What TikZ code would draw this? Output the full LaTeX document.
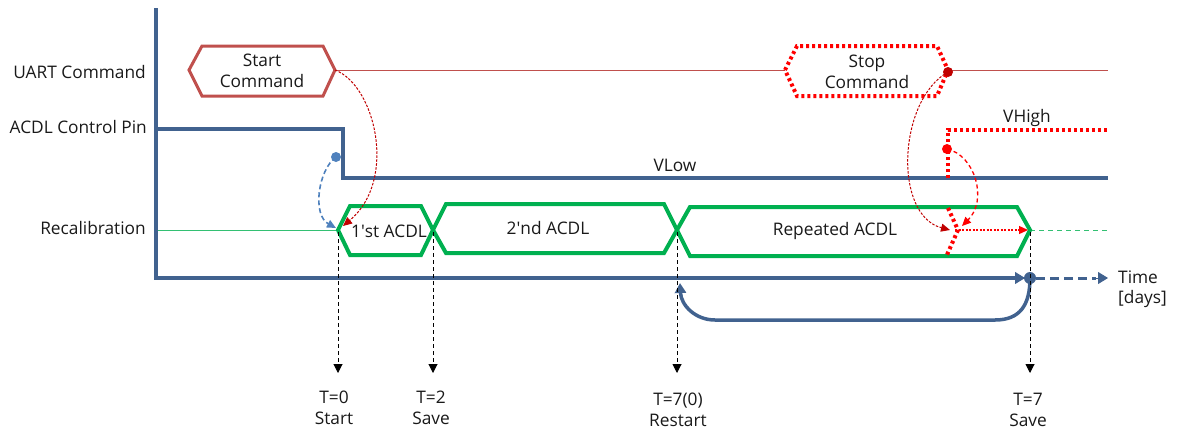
\documentclass[tikz,border=0pt]{standalone}
\usepackage{fontspec}
\setmainfont{Open Sans}
\usetikzlibrary{arrows.meta}
\definecolor{axisblue}{RGB}{65,98,143}
\definecolor{startred}{RGB}{192,80,77}
\definecolor{acdlgreen}{RGB}{0,176,80}
\definecolor{brightred}{RGB}{255,0,0}
\definecolor{darkred}{RGB}{192,0,0}
\definecolor{lightblue}{RGB}{79,129,189}
\definecolor{txt}{RGB}{25,25,25}
\begin{document}
\begin{tikzpicture}[x=1pt,y=-1pt,
  lbl/.style={font=\fontsize{17.3}{20.5}\selectfont, text=txt, inner sep=0pt, align=center},
  axisline/.style={draw=axisblue, line width=4pt},
  hexstart/.style={draw=startred, line width=3pt, line join=miter},
  hexstop/.style={draw=brightred, line width=4pt, dash pattern=on 3pt off 3pt},
  hexgreen/.style={draw=acdlgreen, line width=4pt, line join=miter},
  vhighline/.style={draw=brightred, line width=4pt, dash pattern=on 3pt off 3pt},
  guide/.style={draw=black, line width=1pt, dash pattern=on 4pt off 3pt, -{Triangle[length=9pt,width=9pt]}},
  tip/.style={-{Triangle[length=10pt,width=12pt]}},
]
\useasboundingbox (0,0) rectangle (1180,432);

% ---------- coordinates ----------
\coordinate (axtop) at (156,8);
\coordinate (axorig) at (156,278);
\coordinate (axend) at (1025,278);
\coordinate (save7) at (1030,278);
\coordinate (axdash0) at (1036,278);
\coordinate (axdash1) at (1108,278);

% ---------- signal lines ----------
\coordinate (u0) at (189,70);
\coordinate (u1) at (1108,70);
\draw[startred, line width=1pt] (u0) -- (u1);
\coordinate (r0) at (158,230);
\coordinate (r1) at (338,230);
\draw[acdlgreen!80!white, line width=1pt] (r0) -- (r1);
\coordinate (r2) at (1030,230);
\coordinate (r3) at (1108,230);
\draw[acdlgreen!80!white, line width=1pt, dash pattern=on 5pt off 4pt] (r2) -- (r3);

\coordinate (p0) at (158,129);
\coordinate (p1) at (343,129);
\coordinate (p2) at (343,178);
\coordinate (p3) at (1108,178);
\draw[axisline, line join=miter] (p0) -- (p1) -- (p2) -- (p3);

% ---------- command hexagons ----------
\fill[white] (189,70) -- (202,46) -- (323,46) -- (335,70) -- (323,96) -- (202,96) -- cycle;
\draw[hexstart] (189,70) -- (202,46) -- (323,46) -- (335,70) -- (323,96) -- (202,96) -- cycle;
\node[lbl] (startcmd) at (262,71) {Start\\Command};
\coordinate (startR) at (335,70);

\fill[white] (785,70) -- (797,46) -- (937,46) -- (948,70) -- (937,96) -- (797,96) -- cycle;
\draw[hexstop] (785,70) -- (797,46) -- (937,46) -- (948,70) -- (937,96) -- (797,96) -- cycle;
\node[lbl] (stopcmd) at (867,72) {Stop\\Command};
\coordinate (stopR) at (948,72);

% ---------- ACDL hexagons ----------
\draw[hexgreen] (338,230) -- (350,206) -- (421,206) -- (433,230) -- (421,255) -- (350,255) -- cycle;
\draw[hexgreen] (433,230) -- (446,204) -- (664,204) -- (677,230) -- (664,253) -- (446,253) -- cycle;
\draw[hexgreen] (677,230) -- (690,207) -- (1017,207) -- (1030,230) -- (1017,256) -- (690,256) -- cycle;
\node[lbl] (first) at (389,231) {1\textquotesingle st ACDL};
\node[lbl] (second) at (548,228) {2\textquotesingle nd ACDL};
\node[lbl] (repeated) at (835,231) {Repeated ACDL};

% ---------- VHigh dotted ----------
\coordinate (v0) at (948,178);
\coordinate (v1) at (948,130);
\coordinate (v2) at (1108,130);
\draw[vhighline] (v0) -- (v1) -- (v2);
\coordinate (x0) at (948,208);
\coordinate (x1) at (958,230);
\coordinate (x2) at (946,257);
\draw[vhighline] (x0) -- (x1) -- (x2);

% ---------- labels ----------
\node[lbl, anchor=east] (uart) at (146,72) {UART Command};
\node[lbl, anchor=east] (pin) at (147,127) {ACDL Control Pin};
\node[lbl, anchor=east] (recal) at (146,228) {Recalibration};
\node[lbl] (vlow) at (675,165) {VLow};
\node[lbl] (vhigh) at (1027,118) {VHigh};
\node[lbl, align=left, anchor=west] (time) at (1118,289) {Time\\{[days]}};

% ---------- axes ----------
\draw[axisline, line join=miter] (axtop) -- (axorig) -- (1016,278);
\draw[axisblue, line width=3pt, dash pattern=on 9pt off 5pt] (axdash0) -- (1096,278);
\draw[axisblue, line width=1pt, tip] (1092,278) -- (axdash1);

% return arrow
\coordinate (restart) at (680,283);
\draw[axisblue, line width=3.5pt, -{Triangle[length=10pt,width=11pt]}]
  (save7) .. controls (1030,305) and (1020,320) .. (995,320) -- (715,320)
  .. controls (695,320) and (681,305) .. (restart);
\fill[axisblue] (save7) circle (6pt);
\draw[axisblue, line width=1pt, tip] (1010,278) -- (axend);

% ---------- dashed guides to time labels ----------
\coordinate (g0a) at (338,232); \coordinate (g0b) at (338,373);
\coordinate (g1a) at (433,232); \coordinate (g1b) at (433,373);
\coordinate (g2a) at (677,232); \coordinate (g2b) at (677,373);
\coordinate (g3a) at (1030,232); \coordinate (g3b) at (1030,373);
\draw[guide] (g0a) -- (g0b);
\draw[guide] (g1a) -- (g1b);
\draw[guide] (g2a) -- (g2b);
\draw[guide] (g3a) -- (g3b);
\node[lbl] (t0) at (334,408) {T=0\\Start};
\node[lbl] (t2) at (431,408) {T=2\\Save};
\node[lbl] (t70) at (678,410) {T=7(0)\\Restart};
\node[lbl] (t7) at (1028,410) {T=7\\Save};

% ---------- curved cause arrows ----------
\coordinate (bdot) at (336,157);
\coordinate (btip) at (336,228);
\draw[lightblue, line width=1.6pt, dash pattern=on 5pt off 3pt, -{Triangle[length=9pt,width=8pt]}]
  (bdot) .. controls (318,170) and (312,215) .. (btip);
\fill[lightblue] (bdot) circle (5pt);

\coordinate (stip) at (343,226);
\draw[darkred, line width=1pt, dash pattern=on 2.5pt off 1.5pt, -{Triangle[length=9pt,width=8pt]}]
  (startR) .. controls (375,85) and (398,180) .. (stip);

\coordinate (ptip) at (950,230);
\draw[darkred, line width=1pt, dash pattern=on 2.5pt off 1.5pt, -{Triangle[length=9pt,width=8pt]}]
  (stopR) .. controls (898,100) and (893,215) .. (ptip);
\fill[darkred] (stopR) circle (5pt);

\coordinate (hdot) at (947,149);
\coordinate (htip) at (962,226);
\draw[brightred, line width=1.3pt, dash pattern=on 4pt off 3pt, -{Triangle[length=9pt,width=8pt]}]
  (hdot) .. controls (975,155) and (988,200) .. (htip);
\fill[brightred] (hdot) circle (5pt);

\coordinate (hr0) at (955,230);
\coordinate (hr1) at (1028,230);
\draw[brightred, line width=1.3pt, dash pattern=on 2pt off 1.5pt, -{Triangle[length=9pt,width=8pt]}] (hr0) -- (hr1);

\end{tikzpicture}
\end{document}
